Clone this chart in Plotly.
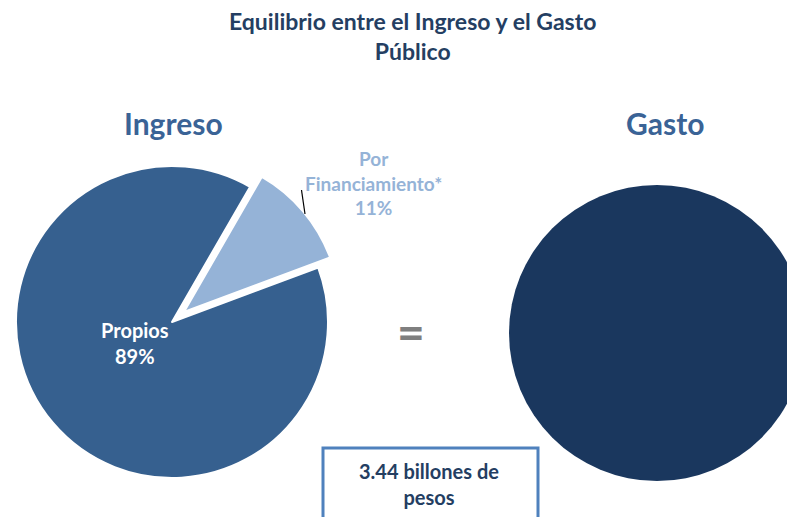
import plotly.graph_objects as go

# ---- data ----
ingreso_labels = ["Por Financiamiento*", "Propios"]
ingreso_values = [11, 89]
gasto_labels = ["Gasto"]
gasto_values = [100]
title_text = "Equilibrio entre el Ingreso y el Gasto<br>Público"
total_text = "3.44 billones de<br>pesos"

W, H = 830, 517
FONT = "Lato"

def px(x):
    return x / W

def py(y):
    return 1 - y / H

c_propios = "#36608F"
c_fin = "#95B3D7"
c_gasto = "#1A375E"
c_head = "#3A6396"
c_title = "#243E62"

fig = go.Figure()

# Ingreso pie (center ~ (172,322), r ~ 156, pull 0.1 -> box 2.2r)
cx, cy, side = 172, 322, 2.2 * 156
fig.add_trace(go.Pie(
    labels=ingreso_labels, values=ingreso_values, sort=False,
    direction="clockwise", rotation=30, pull=[0.1, 0],
    marker=dict(colors=[c_fin, c_propios], line=dict(color="white", width=2)),
    textinfo="none", hoverinfo="label+percent", showlegend=False,
    domain=dict(x=[px(cx - side / 2), px(cx + side / 2)],
                y=[py(cy + side / 2), py(cy - side / 2)]),
))

# Gasto pie (center ~ (657,333), r ~ 148)
gx, gy, gside = 657, 333, 2 * 148
fig.add_trace(go.Pie(
    labels=gasto_labels, values=gasto_values, sort=False,
    marker=dict(colors=[c_gasto], line=dict(color="white", width=0)),
    textinfo="none", hoverinfo="label", showlegend=False,
    domain=dict(x=[px(gx - gside / 2), px(gx + gside / 2)],
                y=[py(gy + gside / 2), py(gy - gside / 2)]),
))

ann = []
ann.append(dict(x=px(412), y=py(36), text="<b>" + title_text + "</b>",
                font=dict(family=FONT, size=23, color=c_title)))
ann.append(dict(x=px(173), y=py(123), text="<b>Ingreso</b>",
                font=dict(family=FONT, size=30, color=c_head)))
ann.append(dict(x=px(665), y=py(123), text="<b>Gasto</b>",
                font=dict(family=FONT, size=30, color=c_head)))
ann.append(dict(x=px(373), y=py(183),
                text="<b>Por<br>Financiamiento*<br>%d%%</b>" % ingreso_values[0],
                font=dict(family=FONT, size=19, color=c_fin)))
ann.append(dict(x=px(135), y=py(343),
                text="<b>Propios<br>%d%%</b>" % ingreso_values[1],
                font=dict(family=FONT, size=20, color="white")))
ann.append(dict(x=px(411), y=py(331), text="<b>=</b>",
                font=dict(family=FONT, size=48, color="#7F7F7F")))
ann.append(dict(x=px(429), y=py(484), text="<b>" + total_text + "</b>",
                font=dict(family=FONT, size=20, color=c_title)))
for a in ann:
    a.update(xref="paper", yref="paper", showarrow=False,
             xanchor="center", yanchor="middle")

shapes = [
    dict(type="line", xref="paper", yref="paper",
         x0=px(301.5), y0=py(190), x1=px(305), y1=py(214),
         line=dict(color="black", width=1.2)),
    dict(type="rect", xref="paper", yref="paper",
         x0=px(323), y0=py(448), x1=px(538), y1=py(540),
         line=dict(color="#4F81BD", width=3), fillcolor="rgba(0,0,0,0)"),
]

fig.update_layout(
    width=W, height=H, margin=dict(l=0, r=0, t=0, b=0),
    paper_bgcolor="white", plot_bgcolor="white",
    annotations=ann, shapes=shapes,
)

fig.write_html("out.html",
               config={"displayModeBar": False},
               post_script="document.body.style.margin='0';"
                           "document.body.style.overflow='hidden';")
